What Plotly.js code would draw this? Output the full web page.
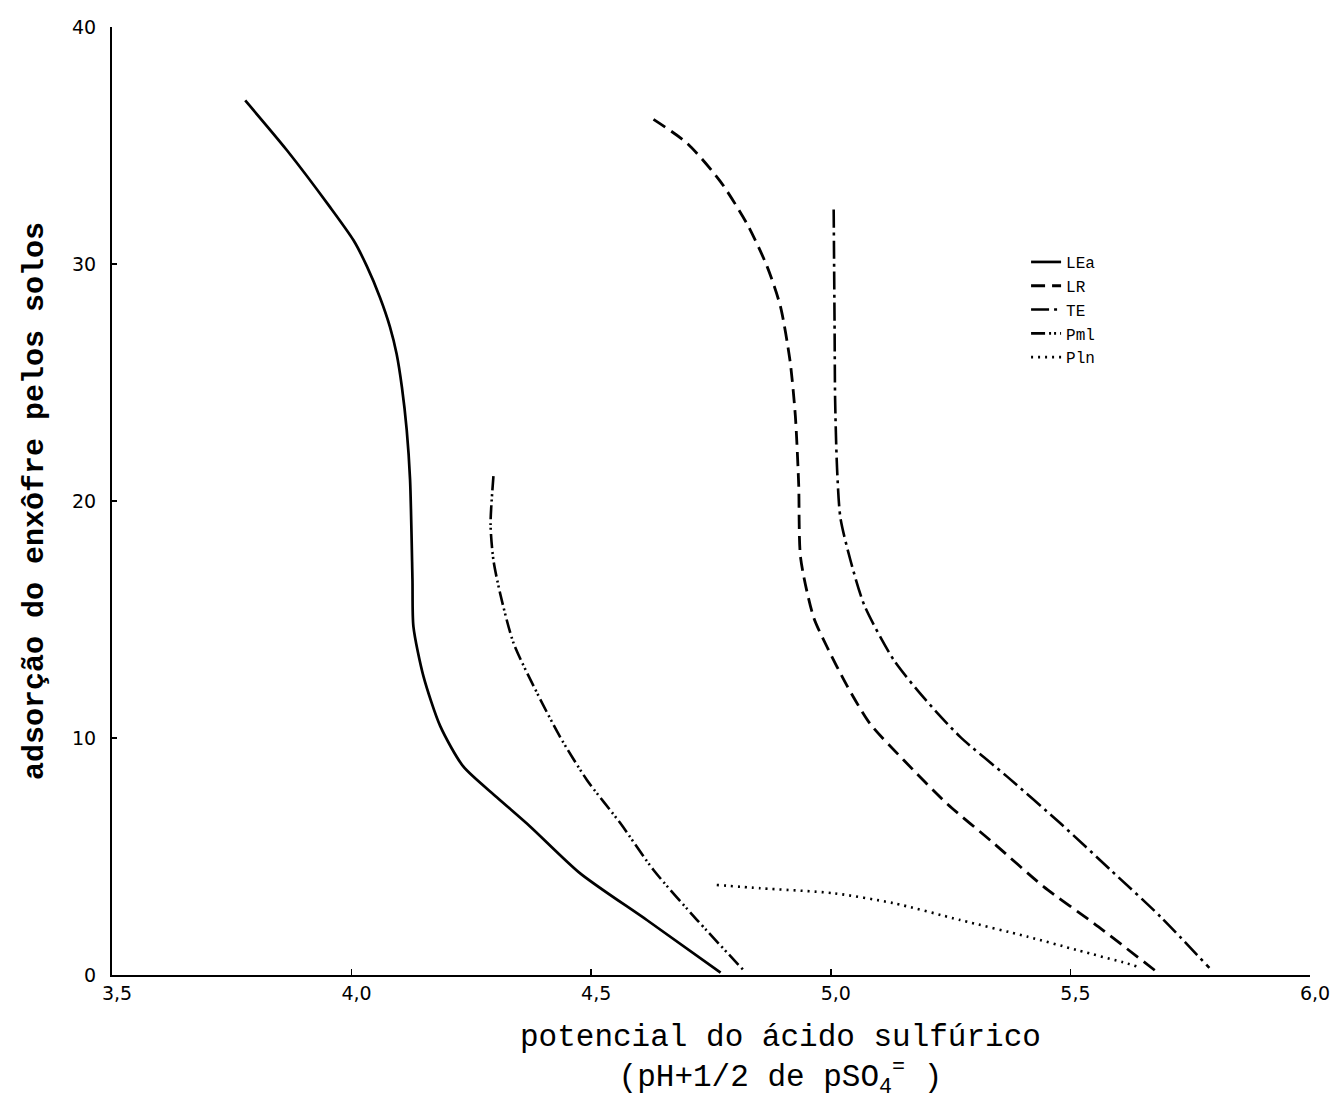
<!DOCTYPE html>
<html>
<head>
<meta charset="utf-8">
<script src="https://cdn.plot.ly/plotly-3.0.1.min.js"></script>
<style>html,body{margin:0;padding:0;background:#fff;}#chart{width:1331px;height:1105px;}</style>
</head>
<body>
<div id="chart"></div>
<script>
// Tick labels
const xTickVals = [3.5, 4.0, 4.5, 5.0, 5.5, 6.0];
const xTickText = ['3,5', '4,0', '4,5', '5,0', '5,5', '6,0'];
const yTickVals = [0, 10, 20, 30, 40];
const yTickText = ['0', '10', '20', '30', '40'];

// Series names
const seriesNames = ['LEa', 'LR', 'TE', 'Pml', 'Pln'];

// LEa (solid)
const leaX = [3.778, 3.865, 3.955, 4.004, 4.032, 4.059, 4.080, 4.094, 4.105, 4.115, 4.122, 4.127, 4.129, 4.150, 4.185, 4.233, 4.303, 4.373, 4.477, 4.616, 4.770];
const leaY = [36.9, 34.8, 32.4, 31.0, 29.9, 28.6, 27.35, 26.2, 24.8, 23.0, 20.9, 16.7, 14.7, 12.6, 10.5, 8.8, 7.5, 6.26, 4.29, 2.32, 0.1];

// LR (dashed)
const lrX = [4.630, 4.700, 4.769, 4.825, 4.867, 4.895, 4.915, 4.926, 4.933, 4.937, 4.964, 4.992, 5.034, 5.082, 5.152, 5.242, 5.340, 5.444, 5.549, 5.676];
const lrY = [36.1, 35.1, 33.5, 31.7, 29.9, 28.2, 25.9, 23.6, 20.7, 17.6, 15.1, 13.85, 12.2, 10.6, 9.07, 7.24, 5.56, 3.73, 2.18, 0.2];

// TE (dash-dot)
const teX = [5.006, 5.008, 5.009, 5.013, 5.020, 5.041, 5.070, 5.131, 5.194, 5.270, 5.368, 5.479, 5.584, 5.688, 5.790];
const teY = [32.3, 27.1, 24.3, 21.4, 19.3, 17.5, 15.6, 13.3, 11.7, 10.05, 8.37, 6.4, 4.43, 2.46, 0.3];

// Pml (dash-dot-dot)
const pmlX = [4.296, 4.290, 4.296, 4.310, 4.338, 4.387, 4.435, 4.491, 4.561, 4.630, 4.721, 4.818];
const pmlY = [21.05, 19.0, 17.5, 16.1, 14.0, 11.9, 10.05, 8.23, 6.4, 4.43, 2.32, 0.2];

// Pln (dotted)
const plnX = [4.762, 4.853, 5.006, 5.131, 5.270, 5.410, 5.514, 5.618, 5.640];
const plnY = [3.8, 3.66, 3.45, 3.03, 2.32, 1.62, 1.05, 0.49, 0.35];

const seriesX = [leaX, lrX, teX, pmlX, plnX];
const seriesY = [leaY, lrY, teY, pmlY, plnY];
const dashes = ['solid', '14px,7px', '18px,5px,3px,5px', '14px,4px,2px,3px,2px,4px', '2px,5px'];
const widths = [2.7, 2.8, 2.6, 2.6, 2.6];

const traces = seriesNames.map((n, i) => ({
  type: 'scatter',
  mode: 'lines',
  name: n,
  x: seriesX[i],
  y: seriesY[i],
  line: {color: '#000', width: widths[i], dash: dashes[i], shape: 'spline', smoothing: 0.7}
}));

const mono = '"Liberation Mono", "DejaVu Sans Mono", monospace';

const layout = {
  width: 1331,
  height: 1105,
  margin: {l: 112, r: 21, t: 27, b: 130},
  paper_bgcolor: '#fff',
  plot_bgcolor: '#fff',
  showlegend: true,
  legend: {
    x: 0.763, y: 0.770, xanchor: 'left', yanchor: 'top',
    bgcolor: 'rgba(0,0,0,0)',
    font: {family: mono, size: 16, color: '#000'},
    itemwidth: 30
  },
  xaxis: {
    range: [3.5, 6.0],
    tickvals: xTickVals, ticktext: xTickText,
    ticks: 'inside', ticklen: 6, tickwidth: 1.5, tickcolor: '#000',
    showline: true, linecolor: '#000', linewidth: 2,
    showgrid: false, zeroline: false,
    ticklabelshift: 5,
    tickfont: {family: '"DejaVu Sans", sans-serif', size: 19, color: '#000'}
  },
  yaxis: {
    range: [0, 40],
    tickvals: yTickVals, ticktext: yTickText,
    ticks: 'inside', ticklen: 5, tickwidth: 1.5, tickcolor: '#000',
    showline: true, linecolor: '#000', linewidth: 2,
    showgrid: false, zeroline: false,
    ticklabelstandoff: 10,
    tickfont: {family: '"DejaVu Sans", sans-serif', size: 19, color: '#000'},
    title: {text: 'adsorção do enxôfre pelos solos', font: {family: mono, size: 30, color: '#000', weight: 'bold'}, standoff: 20}
  },
  annotations: [
    {xref: 'paper', yref: 'paper', x: 0.5576, y: -0.0455, xanchor: 'center', yanchor: 'top', showarrow: false, align: 'center',
     text: 'potencial do ácido sulfúrico<br>(pH+1/2 de pSO<sub>4</sub><sup>=</sup> )', font: {family: mono, size: 31, color: '#000'}}
  ]
};

Plotly.newPlot('chart', traces, layout, {displayModeBar: false, staticPlot: true});
</script>
</body>
</html>
